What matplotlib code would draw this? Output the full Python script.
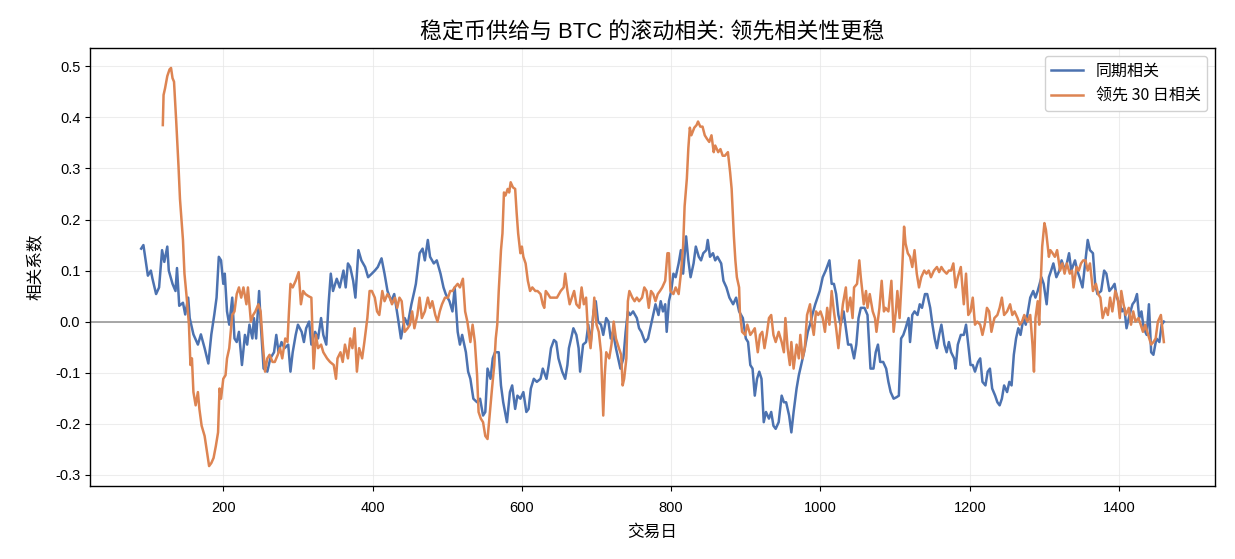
import numpy as np
import matplotlib
matplotlib.use("Agg")
import matplotlib.pyplot as plt

plt.rcParams['font.family'] = ['Liberation Sans', 'Noto Sans CJK SC', 'DejaVu Sans']
plt.rcParams['axes.unicode_minus'] = False
cjk = ['Noto Sans CJK SC', 'Liberation Sans']

# 同期相关 (day, correlation)
sync_day = [90, 93, 99, 103, 105, 110, 114, 118, 121, 125, 127, 132, 136, 138, 141, 146, 149, 153, 155,
            160, 166, 170, 175, 180, 184, 188, 191, 194, 197, 200, 202, 205, 208, 212, 215, 218, 221,
            225, 229, 232, 235, 239, 241, 244, 248, 250, 254, 259, 263, 268, 271, 274, 278, 282, 287,
            290, 293, 297, 300, 305, 308, 311, 315, 318, 323, 327, 331, 334, 338, 341, 344, 347, 352,
            356, 361, 364, 367, 370, 374, 377, 381, 385, 390, 394, 399, 403, 407, 412, 416, 420, 425,
            429, 434, 438, 443, 447, 452, 456, 458, 463, 467, 470, 474, 477, 482, 486, 491, 495, 498,
            503, 507, 510, 514, 517, 520, 525, 528, 531, 535, 540, 544, 548, 551, 554, 558, 561, 564,
            569, 572, 575, 580, 584, 587, 591, 594, 598, 602, 606, 609, 612, 616, 620, 625, 628, 633,
            636, 639, 643, 646, 649, 654, 658, 661, 663, 666, 669, 673, 676, 678, 682, 686, 689, 692,
            696, 699, 702, 706, 709, 713, 716, 719, 722, 726, 729, 732, 736, 739, 742, 745, 749, 754,
            757, 760, 765, 769, 772, 777, 779, 783, 786, 789, 792, 794, 797, 800, 803, 806, 810, 813,
            816, 820, 823, 826, 830, 833, 837, 840, 843, 847, 849, 852, 856, 859, 862, 867, 870, 874,
            878, 883, 887, 891, 896, 900, 903, 906, 909, 912, 915, 918, 921, 924, 927, 931, 934, 937,
            940, 944, 948, 951, 954, 958, 961, 964, 968, 971, 975, 978, 983, 986, 989, 993, 996, 999,
            1003, 1007, 1012, 1015, 1018, 1021, 1024, 1027, 1031, 1034, 1037, 1041, 1045, 1048, 1051,
            1054, 1059, 1063, 1067, 1071, 1074, 1077, 1080, 1084, 1088, 1091, 1094, 1098, 1102, 1105,
            1108, 1111, 1114, 1118, 1120, 1123, 1126, 1130, 1133, 1136, 1140, 1143, 1147, 1150, 1153,
            1156, 1159, 1162, 1166, 1169, 1172, 1175, 1179, 1181, 1184, 1188, 1192, 1195, 1198, 1201,
            1204, 1207, 1211, 1214, 1217, 1221, 1224, 1227, 1230, 1234, 1237, 1240, 1243, 1246, 1250,
            1253, 1256, 1259, 1262, 1265, 1268, 1272, 1275, 1278, 1281, 1285, 1288, 1291, 1296, 1299,
            1303, 1306, 1309, 1312, 1316, 1320, 1323, 1326, 1329, 1333, 1336, 1341, 1344, 1347, 1351,
            1355, 1358, 1361, 1365, 1368, 1371, 1376, 1380, 1383, 1387, 1391, 1394, 1397, 1401, 1404,
            1407, 1410, 1414, 1418, 1421, 1424, 1427, 1430, 1433, 1437, 1440, 1443, 1446, 1450, 1454,
            1457, 1460]
sync_corr = [0.143, 0.150, 0.090, 0.100, 0.085, 0.054, 0.067, 0.140, 0.117, 0.147, 0.100, 0.074, 0.060,
             0.105, 0.031, 0.037, 0.014, 0.047, 0.007, -0.025, -0.045, -0.025, -0.052, -0.082, -0.025,
             0.014, 0.047, 0.127, 0.120, 0.074, 0.094, 0.020, -0.006, 0.047, -0.033, -0.040, -0.020,
             -0.085, -0.026, -0.045, -0.006, -0.033, 0.007, -0.033, 0.060, 0.000, -0.092, -0.098,
             -0.072, -0.060, -0.026, -0.060, -0.040, -0.052, -0.045, -0.098, -0.060, -0.026, -0.006,
             -0.020, -0.040, -0.013, 0.000, -0.045, -0.020, -0.033, 0.007, -0.026, -0.045, 0.034,
             0.094, 0.060, 0.084, 0.067, 0.100, 0.067, 0.114, 0.107, 0.080, 0.047, 0.140, 0.120,
             0.107, 0.087, 0.094, 0.100, 0.107, 0.124, 0.094, 0.060, 0.040, 0.054, 0.007, -0.033,
             0.007, -0.006, 0.034, 0.060, 0.074, 0.134, 0.143, 0.120, 0.160, 0.127, 0.114, 0.120,
             0.094, 0.067, 0.054, 0.040, 0.020, 0.067, -0.020, -0.045, -0.026, -0.060, -0.098,
             -0.112, -0.151, -0.158, -0.151, -0.184, -0.177, -0.092, -0.112, -0.072, -0.060, -0.060,
             -0.125, -0.158, -0.197, -0.138, -0.125, -0.171, -0.145, -0.151, -0.138, -0.177, -0.171,
             -0.131, -0.112, -0.118, -0.112, -0.092, -0.112, -0.085, -0.052, -0.036, -0.040, -0.072,
             -0.098, -0.112, -0.085, -0.052, -0.033, -0.013, -0.026, -0.052, -0.098, -0.045, -0.040,
             -0.006, -0.045, 0.020, 0.040, 0.000, -0.006, -0.026, 0.007, 0.000, -0.033, -0.020,
             -0.052, -0.072, -0.092, -0.072, -0.020, 0.020, 0.013, 0.020, 0.007, -0.013, -0.020,
             -0.040, -0.033, -0.013, 0.020, 0.034, 0.013, 0.040, 0.020, 0.034, -0.020, 0.040, 0.060,
             0.094, 0.087, 0.114, 0.140, 0.094, 0.167, 0.120, 0.087, 0.114, 0.147, 0.127, 0.120,
             0.134, 0.140, 0.160, 0.127, 0.134, 0.120, 0.127, 0.114, 0.080, 0.067, 0.047, 0.034,
             0.047, 0.020, 0.007, -0.033, -0.040, -0.085, -0.092, -0.145, -0.112, -0.098, -0.112,
             -0.197, -0.177, -0.190, -0.177, -0.204, -0.210, -0.197, -0.145, -0.158, -0.158, -0.184,
             -0.217, -0.177, -0.131, -0.105, -0.079, -0.060, -0.020, -0.006, 0.013, 0.034, 0.047,
             0.060, 0.087, 0.100, 0.120, 0.074, 0.074, 0.054, 0.013, -0.006, 0.020, -0.013, -0.045,
             -0.045, -0.072, -0.045, 0.007, 0.027, 0.027, 0.013, -0.092, -0.092, -0.060, -0.045,
             -0.079, -0.079, -0.092, -0.118, -0.138, -0.151, -0.148, -0.145, -0.033, -0.026, -0.013,
             0.007, -0.040, 0.013, 0.020, 0.013, 0.034, 0.027, 0.054, 0.054, 0.027, -0.006, -0.033,
             -0.052, -0.026, -0.006, -0.045, -0.060, -0.040, -0.060, -0.072, -0.092, -0.045, -0.026,
             -0.026, -0.006, -0.045, -0.085, -0.085, -0.098, -0.079, -0.072, -0.118, -0.125, -0.098,
             -0.092, -0.131, -0.145, -0.158, -0.164, -0.151, -0.125, -0.138, -0.118, -0.125, -0.065,
             -0.033, -0.013, -0.026, 0.007, -0.006, 0.020, 0.047, 0.060, 0.047, 0.060, 0.087, 0.074,
             0.034, 0.087, 0.100, 0.114, 0.087, 0.100, 0.120, 0.107, 0.107, 0.134, 0.100, 0.120,
             0.100, 0.087, 0.067, 0.120, 0.160, 0.140, 0.134, 0.074, 0.054, 0.060, 0.100, 0.094,
             0.060, 0.067, 0.074, 0.047, 0.034, 0.020, 0.027, -0.013, 0.013, 0.034, 0.040, 0.054,
             0.007, 0.020, -0.013, -0.026, 0.034, -0.060, -0.065, -0.033, -0.040, -0.006, 0.000]

# 领先 30 日相关 (day, correlation)
lead_day = [119, 120, 122, 125, 128, 130, 132, 134, 137, 140, 142, 143, 146, 148, 151, 154, 156, 158,
            160, 163, 166, 168, 171, 175, 177, 181, 184, 187, 190, 193, 195, 197, 200, 203, 205, 208,
            212, 215, 218, 221, 224, 227, 231, 233, 237, 240, 243, 247, 250, 253, 256, 259, 262, 266,
            269, 273, 276, 279, 283, 286, 288, 290, 293, 297, 301, 304, 307, 310, 314, 318, 321, 324,
            327, 331, 334, 339, 343, 348, 351, 353, 357, 360, 363, 367, 370, 373, 376, 379, 382, 386,
            389, 393, 396, 399, 403, 406, 409, 413, 416, 420, 423, 426, 430, 433, 436, 439, 443, 447,
            450, 453, 456, 460, 463, 466, 470, 474, 477, 480, 484, 487, 490, 493, 497, 501, 504, 507,
            510, 514, 517, 521, 524, 527, 531, 534, 537, 540, 542, 545, 548, 551, 554, 556, 558, 560,
            563, 565, 567, 569, 572, 574, 576, 578, 581, 583, 585, 588, 591, 593, 595, 598, 600, 602,
            605, 608, 611, 614, 618, 621, 625, 628, 630, 632, 635, 638, 643, 647, 652, 656, 658, 661,
            664, 667, 670, 673, 677, 680, 683, 686, 688, 692, 695, 697, 700, 703, 706, 709, 711, 713,
            717, 720, 723, 726, 730, 733, 735, 737, 740, 742, 744, 748, 751, 754, 757, 761, 764, 767,
            770, 773, 776, 779, 782, 785, 788, 792, 795, 797, 799, 803, 806, 810, 813, 816, 818, 821,
            823, 825, 827, 831, 834, 836, 839, 842, 845, 848, 851, 854, 857, 859, 863, 866, 869, 872,
            876, 879, 881, 884, 886, 888, 891, 892, 895, 899, 902, 906, 909, 912, 916, 919, 922, 925,
            928, 931, 934, 937, 940, 944, 948, 951, 953, 956, 959, 961, 964, 968, 971, 973, 976, 979,
            982, 986, 988, 991, 994, 997, 1000, 1003, 1006, 1009, 1012, 1015, 1018, 1021, 1024, 1027,
            1030, 1034, 1036, 1040, 1043, 1045, 1049, 1052, 1054, 1058, 1061, 1063, 1066, 1070, 1073,
            1075, 1079, 1082, 1085, 1087, 1091, 1095, 1098, 1101, 1103, 1106, 1109, 1111, 1112, 1114,
            1117, 1120, 1123, 1126, 1129, 1132, 1135, 1139, 1142, 1145, 1148, 1152, 1156, 1159, 1162,
            1165, 1169, 1172, 1175, 1178, 1181, 1184, 1188, 1192, 1195, 1198, 1201, 1204, 1207, 1210,
            1214, 1217, 1220, 1223, 1226, 1229, 1233, 1237, 1240, 1243, 1246, 1250, 1254, 1257, 1260,
            1264, 1267, 1270, 1273, 1277, 1281, 1284, 1286, 1288, 1291, 1293, 1295, 1297, 1300, 1302,
            1304, 1306, 1308, 1311, 1314, 1317, 1321, 1324, 1327, 1330, 1334, 1337, 1339, 1343, 1346,
            1349, 1352, 1355, 1358, 1361, 1365, 1369, 1372, 1375, 1378, 1382, 1385, 1388, 1391, 1395,
            1398, 1401, 1403, 1406, 1409, 1413, 1416, 1419, 1422, 1426, 1429, 1432, 1435, 1439, 1443,
            1446, 1449, 1452, 1456, 1457, 1460]
lead_corr = [0.385, 0.444, 0.457, 0.481, 0.494, 0.497, 0.477, 0.470, 0.391, 0.305, 0.240, 0.220, 0.160,
             0.094, 0.047, -0.006, -0.085, -0.072, -0.138, -0.164, -0.138, -0.171, -0.204, -0.224,
             -0.244, -0.283, -0.277, -0.267, -0.244, -0.217, -0.131, -0.151, -0.112, -0.105, -0.072,
             -0.052, 0.013, 0.020, 0.054, 0.067, 0.047, 0.067, 0.034, 0.067, 0.000, 0.013, 0.020,
             0.034, 0.020, -0.045, -0.098, -0.072, -0.065, -0.079, -0.079, -0.065, -0.052, -0.072,
             -0.033, -0.040, 0.020, 0.074, 0.067, 0.080, 0.097, 0.034, 0.060, 0.054, 0.050, 0.047,
             -0.092, -0.026, -0.052, -0.045, -0.060, -0.072, -0.079, -0.085, -0.112, -0.072, -0.060,
             -0.079, -0.045, -0.072, -0.033, -0.052, -0.013, -0.098, -0.052, -0.072, -0.040, 0.007,
             0.060, 0.060, 0.047, 0.020, 0.013, 0.060, 0.040, 0.054, 0.047, 0.034, 0.047, 0.027,
             0.047, 0.040, -0.020, -0.013, -0.006, 0.020, -0.013, 0.013, 0.047, 0.007, 0.020, 0.047,
             0.027, 0.040, 0.013, 0.000, 0.020, 0.034, 0.047, 0.047, 0.060, 0.060, 0.067, 0.074,
             0.067, 0.084, 0.020, 0.000, -0.040, -0.006, -0.040, -0.105, -0.177, -0.190, -0.197,
             -0.224, -0.230, -0.197, -0.164, -0.131, -0.085, -0.033, -0.006, 0.060, 0.140, 0.173,
             0.253, 0.247, 0.260, 0.253, 0.273, 0.263, 0.260, 0.213, 0.173, 0.134, 0.147, 0.127,
             0.114, 0.080, 0.060, 0.067, 0.060, 0.060, 0.054, 0.034, 0.027, 0.060, 0.054, 0.047,
             0.047, 0.047, 0.060, 0.067, 0.094, 0.060, 0.034, 0.047, 0.060, 0.034, 0.027, 0.067,
             0.034, 0.047, -0.006, -0.052, 0.000, 0.047, -0.006, -0.020, -0.060, -0.184, -0.105,
             -0.060, -0.072, -0.045, 0.000, -0.033, -0.052, -0.065, -0.125, -0.112, -0.072, 0.040,
             0.060, 0.047, 0.040, 0.047, 0.040, 0.047, 0.067, 0.060, 0.027, 0.060, 0.054, 0.040,
             0.054, 0.060, 0.067, 0.080, 0.134, 0.134, 0.060, 0.054, 0.067, 0.054, 0.094, 0.147,
             0.226, 0.280, 0.340, 0.380, 0.365, 0.380, 0.385, 0.392, 0.382, 0.382, 0.365, 0.358,
             0.352, 0.365, 0.332, 0.345, 0.332, 0.338, 0.325, 0.325, 0.332, 0.292, 0.260, 0.167,
             0.120, 0.087, 0.067, 0.020, -0.020, -0.026, -0.006, -0.026, -0.020, -0.013, -0.060,
             -0.026, -0.020, -0.052, -0.026, 0.007, 0.013, -0.026, -0.040, -0.020, -0.040, -0.060,
             0.007, -0.052, -0.085, -0.040, -0.092, -0.045, -0.072, -0.026, -0.072, -0.052, 0.013,
             0.034, 0.000, -0.026, 0.020, 0.013, 0.020, 0.007, -0.020, 0.027, -0.006, 0.060, 0.020,
             -0.013, -0.052, -0.006, 0.034, 0.067, 0.020, 0.047, 0.007, 0.067, 0.074, 0.120, 0.087,
             0.034, 0.060, 0.027, 0.054, 0.020, 0.007, -0.020, 0.027, 0.080, 0.020, 0.027, 0.020,
             0.080, -0.020, 0.020, 0.060, 0.007, 0.087, 0.153, 0.186, 0.153, 0.134, 0.127, 0.107,
             0.140, 0.094, 0.067, 0.087, 0.100, 0.094, 0.100, 0.087, 0.100, 0.107, 0.097, 0.107,
             0.100, 0.094, 0.100, 0.100, 0.114, 0.067, 0.087, 0.107, 0.034, 0.094, 0.013, 0.020,
             0.047, -0.006, 0.000, -0.006, -0.026, -0.006, 0.027, 0.020, -0.020, 0.007, 0.013, 0.027,
             0.047, 0.013, 0.020, 0.034, 0.013, 0.020, 0.007, -0.006, 0.000, 0.013, 0.000, 0.013,
             -0.045, -0.098, 0.007, 0.040, -0.006, 0.074, 0.147, 0.193, 0.180, 0.153, 0.127, 0.140,
             0.134, 0.127, 0.140, 0.100, 0.114, 0.094, 0.114, 0.094, 0.100, 0.067, 0.107, 0.100,
             0.114, 0.120, 0.120, 0.100, 0.114, 0.060, 0.074, 0.054, 0.047, 0.007, 0.027, 0.013,
             0.047, 0.020, 0.060, 0.047, 0.007, 0.060, 0.034, 0.013, 0.027, -0.006, 0.020, 0.000,
             0.007, -0.006, -0.020, -0.006, -0.026, -0.045, -0.040, -0.033, 0.000, 0.013, 0.000,
             -0.040]

blue = "#4C72B0"
orange = "#DD8452"

fig = plt.figure(figsize=(12.35, 5.59), dpi=100)
ax = fig.add_axes([0.0729, 0.1306, 0.9109, 0.7835])

ax.plot(sync_day, sync_corr, color=blue, lw=1.8, label="同期相关")
ax.plot(lead_day, lead_corr, color=orange, lw=1.8, label="领先 30 日相关")
ax.axhline(0, color="#999999", lw=1.2, zorder=1)

ax.grid(True, color="#e6e6e6", lw=0.8, alpha=0.7)
ax.set_axisbelow(True)
for s in ax.spines.values():
    s.set_color("black")
    s.set_linewidth(1.0)

ax.set_title("稳定币供给与 BTC 的滚动相关: 领先相关性更稳", fontsize=15.8, pad=7)
ax.set_xlabel("交易日", fontsize=12, family=cjk, labelpad=7)
ax.set_ylabel("相关系数", fontsize=12, family=cjk, labelpad=8)
ax.tick_params(labelsize=10.5)
ax.tick_params(axis="x", pad=7)
ax.legend(loc="upper right", prop={'family': cjk, 'size': 11.5}, framealpha=0.9)

fig.savefig("out.png", dpi=100)
